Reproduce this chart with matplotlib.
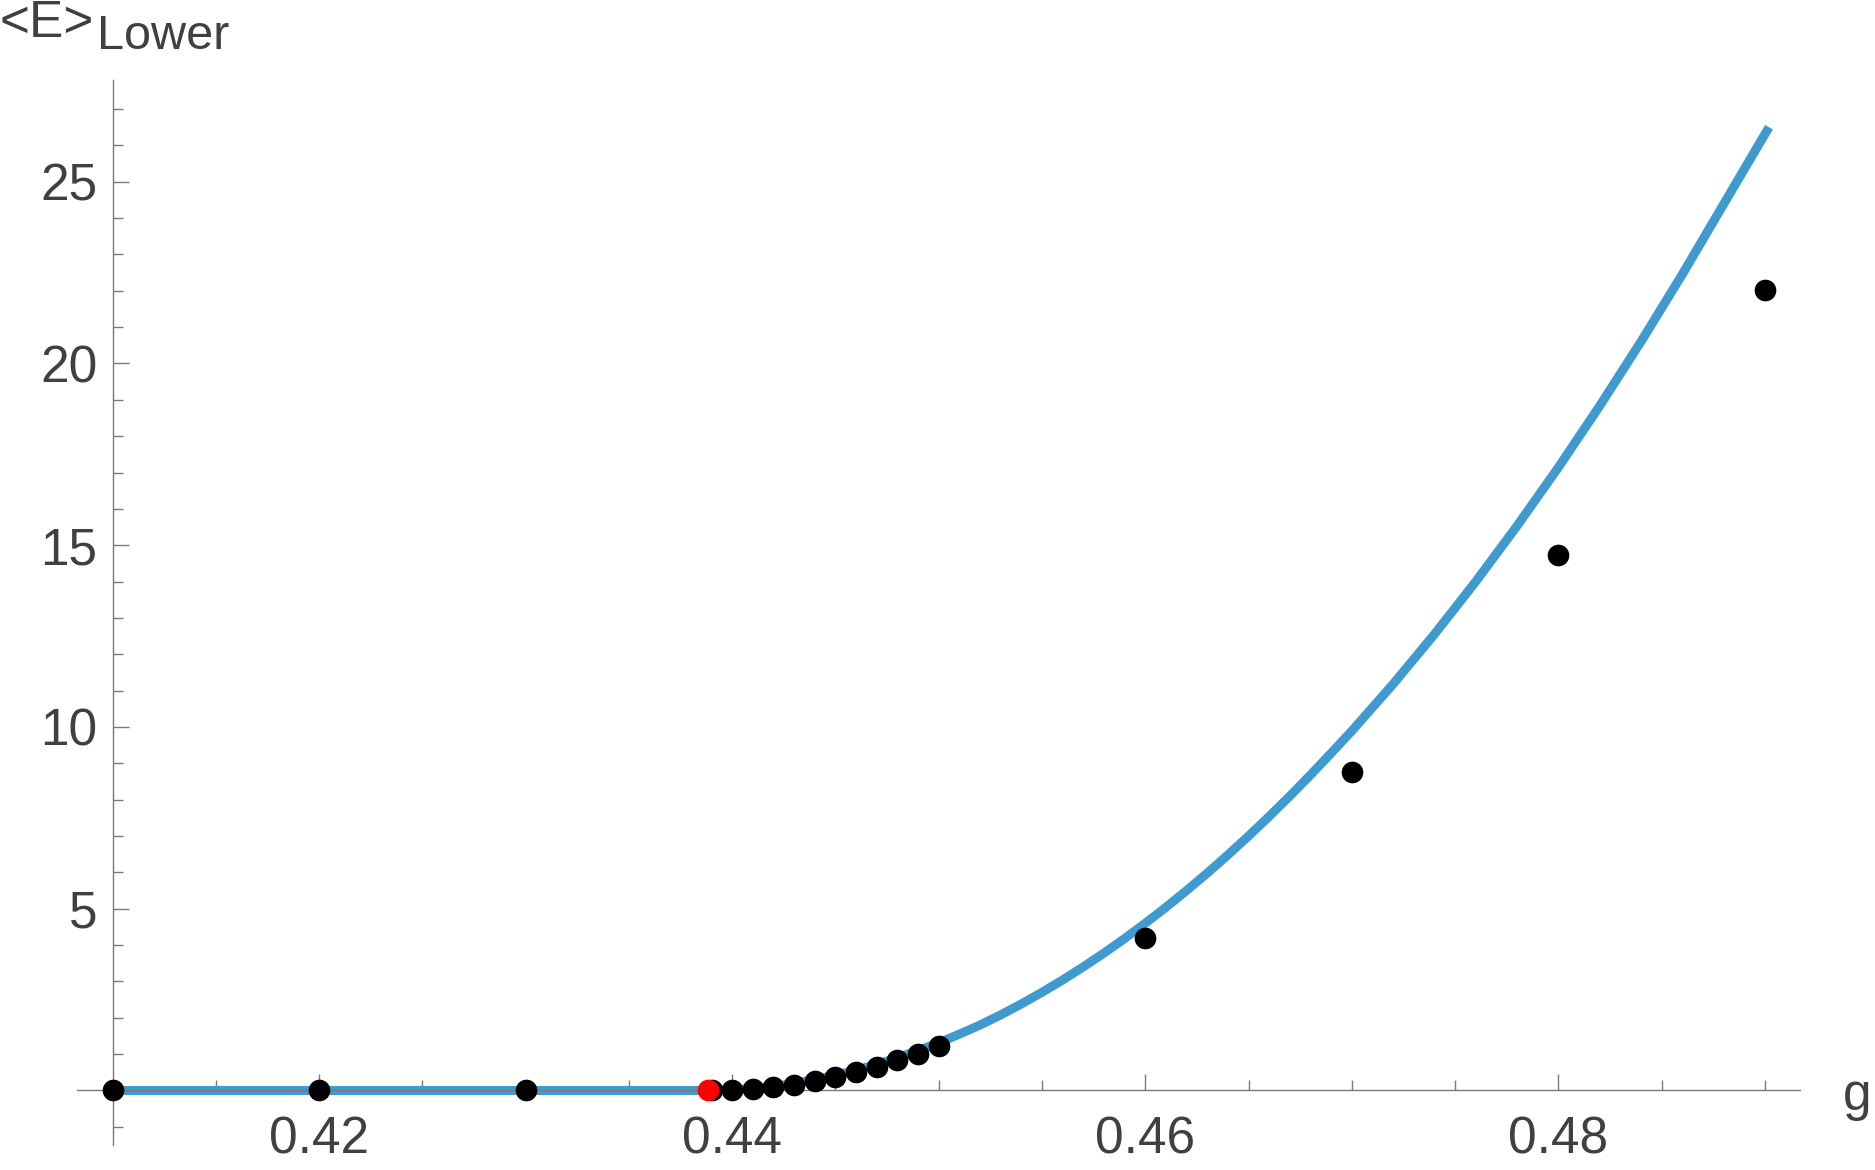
import numpy as np
import matplotlib
matplotlib.use('Agg')
from matplotlib import pyplot as plt

plt.rcParams['font.family'] = ['Liberation Sans', 'DejaVu Sans']

# measured points
g_pts = [0.41, 0.42, 0.43, 0.439, 0.440, 0.441, 0.442, 0.443, 0.444, 0.445,
         0.446, 0.447, 0.448, 0.449, 0.450, 0.46, 0.47, 0.48, 0.49]
E_pts = [0.0, 0.0, 0.0, 0.0, 0.0, 0.05, 0.095, 0.16, 0.26, 0.37,
         0.51, 0.65, 0.83, 1.01, 1.21, 4.19, 8.75, 14.73, 22.03]
g_crit = [0.43885]
E_crit = [0.0]

# fitted curve
curve_g = [0.41, 0.4388, 0.439, 0.440, 0.441, 0.442, 0.443, 0.444, 0.445, 0.446,
           0.447, 0.448, 0.449, 0.450, 0.451, 0.452, 0.453, 0.454, 0.455, 0.456,
           0.457, 0.458, 0.459, 0.460, 0.461, 0.462, 0.463, 0.464, 0.465, 0.466,
           0.467, 0.468, 0.469, 0.470, 0.472, 0.474, 0.476, 0.478, 0.480, 0.482,
           0.484, 0.486, 0.488, 0.4902]
curve_E = [0.0, 0.0, 0.0, 0.02, 0.05, 0.11, 0.19, 0.30, 0.42, 0.56,
           0.72, 0.90, 1.10, 1.31, 1.55, 1.80, 2.08, 2.38, 2.70, 3.04,
           3.40, 3.78, 4.18, 4.60, 5.04, 5.50, 5.98, 6.48, 7.00, 7.54,
           8.10, 8.68, 9.28, 9.89, 11.18, 12.55, 14.00, 15.53, 17.14, 18.83,
           20.60, 22.45, 24.38, 26.50]

x_major = [0.42, 0.44, 0.46, 0.48]
x_labels = ['0.42', '0.44', '0.46', '0.48']
y_major = [5, 10, 15, 20, 25]
y_labels = ['5', '10', '15', '20', '25']

txt = '#404040'
axc = '#7a7a7a'

fig = plt.figure(figsize=(18.75, 11.7), dpi=100)
ax = fig.add_axes([0.0413, 0.02137, 0.9187, 0.9103])

ax.plot(curve_g, curve_E, color='#3f9bcf', lw=6.5, solid_capstyle='butt',
        solid_joinstyle='round', zorder=2)
ax.plot(g_pts, E_pts, 'o', color='black', ms=15.6, mew=0, zorder=3)
ax.plot(g_crit, E_crit, 'o', color='red', ms=15.6, mew=0, zorder=4)

ax.set_xlim(0.4083, 0.4917)
ax.set_ylim(-1.50, 27.8)

ax.spines['left'].set_position(('data', 0.41))
ax.spines['bottom'].set_position(('data', 0.0))
ax.spines['top'].set_visible(False)
ax.spines['right'].set_visible(False)
for s in ['left', 'bottom']:
    ax.spines[s].set_color(axc)
    ax.spines[s].set_linewidth(1.0)

ax.set_xticks(x_major)
ax.set_xticklabels(x_labels)
ax.set_xticks([0.415, 0.425, 0.43, 0.435, 0.445, 0.45, 0.455, 0.465, 0.47,
               0.475, 0.485, 0.49], minor=True)
ax.set_yticks(y_major)
ax.set_yticklabels(y_labels)
ax.set_yticks([v for v in range(-1, 28) if v % 5 != 0], minor=True)

ax.tick_params(which='both', direction='in', colors=axc, labelcolor=txt,
               labelsize=37, width=1.0)
ax.tick_params(which='major', length=11.5)
ax.tick_params(which='minor', length=7.2)
ax.tick_params(axis='x', which='major', pad=18)
ax.tick_params(axis='y', which='major', pad=11)
ax.patch.set_visible(False)

fig.text(0.0, 1 - 36.7 / 1170, '<E>', fontsize=37, color=txt,
         ha='left', va='baseline')
fig.text(97 / 1875, 1 - 49.3 / 1170, 'Lower', fontsize=35, color=txt,
         ha='left', va='baseline')
fig.text(1843 / 1875, (1170 - 1110) / 1170, 'g', fontsize=37, color=txt,
         ha='left', va='baseline')

fig.savefig('out.png', dpi=100)
